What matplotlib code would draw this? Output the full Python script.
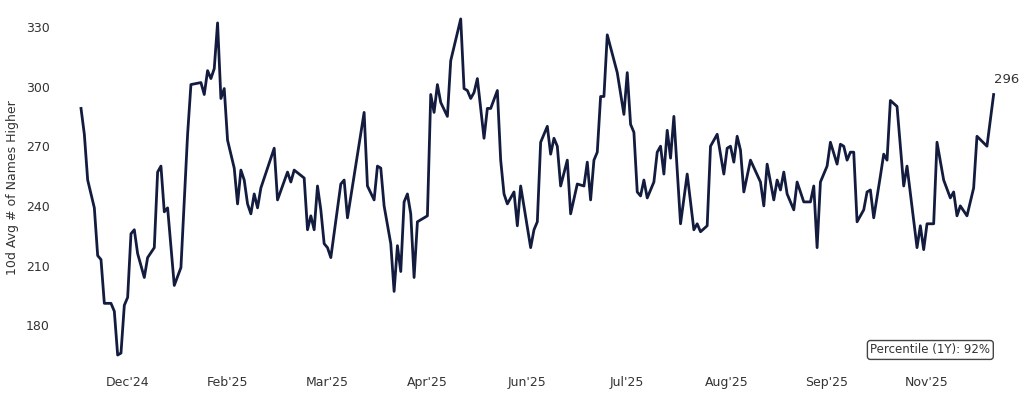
import numpy as np
import matplotlib
matplotlib.use('Agg')
import matplotlib.pyplot as plt

# trading-day index of each reading, and the 10d average value
day = [0, 1, 2, 4, 5, 6, 7, 9, 10, 11, 12, 13, 14, 15, 16, 17, 19, 20, 22, 23,
       24, 25, 26, 28, 30, 32, 33, 36, 37, 38, 39, 40, 41, 42, 43, 44, 46, 47, 48, 49,
       50, 51, 52, 53, 54, 58, 59, 62, 63, 64, 67, 68, 69, 70, 71, 72, 73, 74, 75, 78,
       79, 80, 85, 86, 88, 89, 90, 91, 93, 94, 95, 96, 97, 98, 99, 100, 101, 104, 105, 106,
       107, 108, 110, 111, 114, 115, 116, 117, 118, 119, 121, 122, 123, 125, 126, 127, 128, 130, 131, 132,
       135, 136, 137, 138, 140, 141, 142, 143, 144, 146, 147, 149, 151, 152, 153, 154, 155, 156, 157, 158,
       161, 163, 164, 165, 166, 167, 168, 169, 170, 172, 173, 174, 175, 176, 177, 178, 180, 182, 184, 185,
       186, 188, 189, 191, 193, 194, 195, 196, 197, 198, 199, 201, 204, 205, 206, 208, 209, 210, 211, 212,
       214, 215, 217, 219, 220, 221, 222, 224, 225, 227, 228, 229, 230, 231, 232, 233, 235, 236, 237, 238,
       240, 241, 242, 243, 245, 247, 248, 251, 252, 253, 254, 256, 257, 259, 261, 262, 263, 264, 266, 268,
       269, 272, 274]
names_higher = [289, 276, 253, 239, 215, 213, 191, 191, 187, 165, 166, 190, 194, 226, 228, 216, 204, 214, 219, 257,
                260, 237, 239, 200, 209, 276, 301, 302, 296, 308, 304, 309, 332, 294, 299, 273, 259, 241, 258, 253,
                241, 236, 246, 239, 249, 269, 243, 257, 252, 258, 254, 228, 235, 228, 250, 238, 221, 219, 214, 251,
                253, 234, 287, 250, 243, 260, 259, 240, 221, 197, 220, 207, 242, 246, 236, 204, 232, 235, 296, 287,
                301, 292, 285, 313, 334, 299, 298, 294, 297, 304, 274, 289, 289, 298, 263, 246, 241, 247, 230, 250,
                219, 228, 232, 272, 280, 266, 274, 270, 250, 263, 236, 251, 250, 262, 243, 263, 267, 295, 295, 326,
                307, 286, 307, 281, 277, 247, 245, 253, 244, 252, 267, 270, 256, 278, 264, 285, 231, 256, 228, 231,
                227, 230, 270, 276, 256, 269, 270, 262, 275, 268, 247, 263, 252, 240, 261, 243, 253, 248, 257, 246,
                238, 252, 242, 242, 250, 219, 252, 260, 272, 261, 271, 270, 263, 267, 267, 232, 238, 247, 248, 234,
                255, 266, 263, 293, 290, 250, 260, 219, 230, 218, 231, 231, 272, 253, 244, 247, 235, 240, 235, 249,
                275, 270, 296]

tick_labels = ["Dec'24", "Feb'25", "Mar'25", "Apr'25", "Jun'25", "Jul'25", "Aug'25", "Sep'25", "Nov'25"]
tick_days = [14, 44, 74, 104, 134, 164, 194, 224, 254]
percentile_1y = 92

navy = '#131c3e'
text_col = '#333333'

fig = plt.figure(figsize=(10.24, 3.96), dpi=100)
ax = fig.add_axes([0.0596, 0.0783, 0.927, 0.8965])

ax.plot(day, names_higher, color=navy, linewidth=2.0)

ax.set_xlim(-6, 279)
ax.set_ylim(160, 338.5)
ax.set_yticks([180, 210, 240, 270, 300, 330])
ax.set_xticks(tick_days)
ax.set_xticklabels(tick_labels)
ax.tick_params(axis='both', length=0, labelsize=9, colors=text_col)
ax.tick_params(axis='y', pad=8)
ax.tick_params(axis='x', pad=8)
for s in ax.spines.values():
    s.set_visible(False)

ax.set_ylabel('10d Avg # of Names Higher', fontsize=9, color=text_col, labelpad=5)

# last value label
ax.annotate(f'{names_higher[-1]}', xy=(day[-1], names_higher[-1]), xytext=(0, 6),
            textcoords='offset points', fontsize=9.5, color=text_col, ha='left', va='bottom')

ax.text(0.979, 0.024, f'Percentile (1Y): {percentile_1y}%', transform=ax.transAxes,
        ha='right', va='bottom', fontsize=8.5, color=text_col,
        bbox=dict(boxstyle='round,pad=0.25', fc='white', ec='#444444', lw=1))

fig.savefig('out.png', dpi=100)
